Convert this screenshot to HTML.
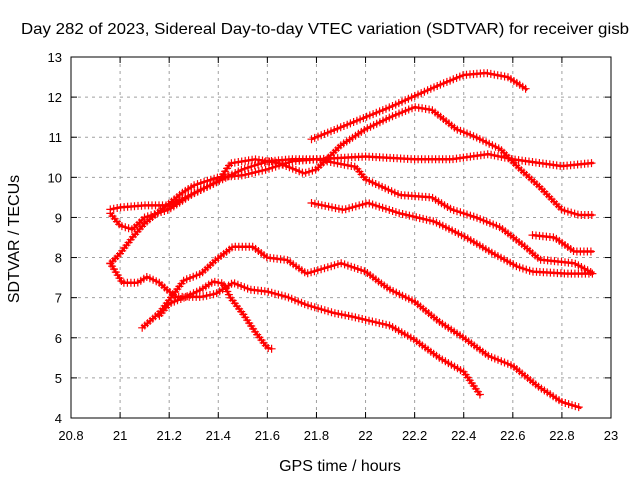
<!DOCTYPE html>
<html><head><meta charset="utf-8"><style>
body{margin:0;background:#fff;}
svg{display:block;font-family:"Liberation Sans",sans-serif;}
</style></head><body>
<svg id="chart" width="640" height="480">
<rect width="640" height="480" fill="#fff"/>
<text x="325" y="34" font-size="16" text-anchor="middle" textLength="608" lengthAdjust="spacingAndGlyphs">Day 282 of 2023, Sidereal Day-to-day VTEC variation (SDTVAR) for receiver gisb</text>
<text transform="translate(19,239) rotate(-90)" font-size="16" text-anchor="middle">SDTVAR / TECUs</text>
<text x="340" y="471" font-size="16" text-anchor="middle">GPS time / hours</text>
<g id="grid"></g><g id="series"></g><g id="axes"></g>
</svg>
<script>
const xTicks=[20.8,21,21.2,21.4,21.6,21.8,22,22.2,22.4,22.6,22.8,23];
const xTickLabels=["20.8","21","21.2","21.4","21.6","21.8","22","22.2","22.4","22.6","22.8","23"];
const yTicks=[4,5,6,7,8,9,10,11,12,13];
const yTickLabels=["4","5","6","7","8","9","10","11","12","13"];
const t1X=[20.96,21.0,21.05,21.1,21.15,21.2,21.25,21.3,21.35,21.4,21.5,21.6,21.7,21.8,22.0,22.2,22.35,22.5,22.6,22.8,22.93];
const t1Y=[7.85,8.1,8.5,8.85,9.1,9.35,9.6,9.8,9.9,10.0,10.05,10.2,10.4,10.45,10.52,10.45,10.45,10.58,10.45,10.28,10.36];
const t2X=[20.96,21.0,21.1,21.2,21.3,21.4,21.45,21.55,21.65,21.75,21.8,21.9,22.0,22.1,22.2,22.27,22.37,22.45,22.55,22.62,22.71,22.8,22.87,22.93];
const t2Y=[9.2,9.25,9.3,9.3,9.6,9.9,10.35,10.45,10.35,10.1,10.2,10.8,11.2,11.5,11.75,11.68,11.2,11.0,10.7,10.26,9.76,9.19,9.06,9.06];
const t3X=[21.78,21.9,22.0,22.1,22.19,22.3,22.4,22.49,22.58,22.66];
const t3Y=[10.95,11.25,11.5,11.75,12.0,12.3,12.55,12.6,12.5,12.18];
const t4X=[20.96,21.0,21.05,21.1,21.2,21.3,21.4,21.5,21.6,21.7,21.8,21.96,22.0,22.14,22.27,22.35,22.45,22.55,22.65,22.71,22.85,22.93];
const t4Y=[9.1,8.8,8.7,9.0,9.2,9.6,9.9,10.2,10.4,10.45,10.45,10.26,9.95,9.56,9.5,9.2,9.0,8.75,8.27,7.95,7.86,7.6];
const t5X=[21.78,21.91,22.01,22.14,22.28,22.41,22.52,22.62,22.68,22.82,22.93];
const t5Y=[9.36,9.19,9.36,9.1,8.9,8.5,8.1,7.77,7.65,7.6,7.6];
const t6X=[22.68,22.77,22.85,22.93];
const t6Y=[8.56,8.5,8.15,8.15];
const l1X=[20.96,21.01,21.07,21.11,21.16,21.19,21.23,21.33,21.39,21.46,21.53,21.6,21.68,21.76,21.87,21.95,22.1,22.2,22.3,22.4,22.47];
const l1Y=[7.86,7.37,7.37,7.52,7.37,7.2,7.02,7.02,7.1,7.37,7.2,7.15,7.02,6.82,6.62,6.52,6.3,5.95,5.5,5.15,4.55];
const l2X=[21.09,21.16,21.26,21.33,21.39,21.46,21.54,21.6,21.68,21.76,21.9,22.0,22.06,22.1,22.2,22.3,22.4,22.5,22.6,22.7,22.8,22.88];
const l2Y=[6.25,6.62,7.43,7.6,7.94,8.27,8.27,8.0,7.94,7.6,7.86,7.65,7.37,7.2,6.9,6.4,6.0,5.55,5.3,4.8,4.4,4.25];
const l3X=[21.16,21.2,21.26,21.33,21.38,21.42,21.45,21.5,21.55,21.6,21.62];
const l3Y=[6.55,6.85,7.0,7.2,7.4,7.35,7.0,6.6,6.15,5.75,5.72];
const seriesList=[[t1X,t1Y],[t2X,t2Y],[t3X,t3Y],[t4X,t4Y],[t5X,t5Y],[t6X,t6Y],[l1X,l1Y],[l2X,l2Y],[l3X,l3Y]];
const NS="http://www.w3.org/2000/svg";
const L=71,R=611,T=57,B=418;
const sx=v=>L+(v-20.8)/(23-20.8)*(R-L);
const sy=v=>B-(v-4)/(13-4)*(B-T);
function mk(tag,attrs,parent){const e=document.createElementNS(NS,tag);for(const k in attrs)e.setAttribute(k,attrs[k]);parent.appendChild(e);return e;}
const grid=document.getElementById('grid'),axes=document.getElementById('axes'),ser=document.getElementById('series');
xTicks.forEach((v,i)=>{
  const x=sx(v);
  if(i>0&&i<xTicks.length-1){const g=mk('line',{x1:x,x2:x,y1:T,y2:B,stroke:'#a0a0a0','stroke-dasharray':'3,4'},grid);
  
  }
  const t=mk('text',{x:x,y:B+22,'font-size':13,'text-anchor':'middle'},axes);t.textContent=xTickLabels[i];
  
  
  mk('line',{x1:x,x2:x,y1:B,y2:B-6,stroke:'#000'},axes);mk('line',{x1:x,x2:x,y1:T,y2:T+6,stroke:'#000'},axes);
});
yTicks.forEach((v,i)=>{
  const y=sy(v);
  if(i>0&&i<yTicks.length-1){const g=mk('line',{x1:L,x2:R,y1:y,y2:y,stroke:'#a0a0a0','stroke-dasharray':'3,4'},grid);
  
  }
  const t=mk('text',{x:L-9,y:y+5,'font-size':13,'text-anchor':'end'},axes);t.textContent=yTickLabels[i];
  
  
  mk('line',{x1:L,x2:L+6,y1:y,y2:y,stroke:'#000'},axes);mk('line',{x1:R,x2:R-6,y1:y,y2:y,stroke:'#000'},axes);
});
const frame=mk('rect',{x:L,y:T,width:R-L,height:B-T,fill:'none',stroke:'#000'},axes);


seriesList.forEach(([xs,ys],si)=>{
  const g=mk('g',{},ser);
  
  
  const d=xs.map((x,i)=>(i?'L':'M')+sx(x).toFixed(1)+','+sy(ys[i]).toFixed(1)).join('');
  const p=mk('path',{d:d,fill:'none',stroke:'#ff0000','stroke-width':2.5,'stroke-linejoin':'round'},g);
  
  
  const len=p.getTotalLength();let md='';
  for(let s=0;s<=len;s+=3.5){const pt=p.getPointAtLength(s);md+=`M${(pt.x-4).toFixed(1)},${pt.y.toFixed(1)}h8M${pt.x.toFixed(1)},${(pt.y-4).toFixed(1)}v8`;}
  const m=mk('path',{d:md,stroke:'#ff0000','stroke-width':1.2,fill:'none'},g);
  
  
});
</script>
</body></html>
